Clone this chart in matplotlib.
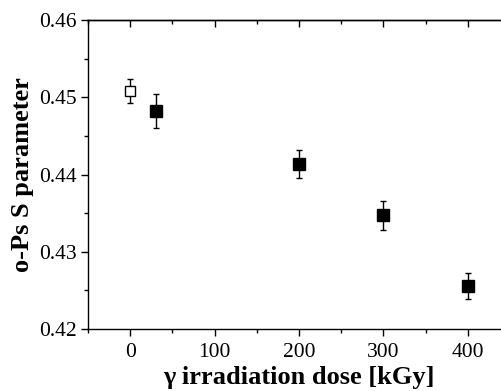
import matplotlib
matplotlib.use("Agg")
import matplotlib.pyplot as plt
from matplotlib.ticker import MultipleLocator

plt.rcParams['font.family'] = ['Liberation Serif', 'DejaVu Serif']

dose_open = [0]
s_open = [0.4508]
err_open = [0.0015]

dose = [30, 200, 300, 400]
s_param = [0.4482, 0.4414, 0.4347, 0.4256]
s_err = [0.0022, 0.0018, 0.0019, 0.0017]

fig = plt.figure(figsize=(5.02, 3.91), dpi=100)
ax = fig.add_axes([88/502, 62/391, 422/502, 309/391])

ax.errorbar(dose_open, s_open, yerr=err_open, fmt='s', mfc='white', mec='black',
            mew=1.0, ms=7, ecolor='black', elinewidth=1, capsize=2.5, capthick=1)
ax.errorbar(dose, s_param, yerr=s_err, fmt='s', mfc='black', mec='black',
            ms=8.5, ecolor='black', elinewidth=1, capsize=2.5, capthick=1)

ax.set_xlim(-50, 450)
ax.set_ylim(0.42, 0.46)
ax.xaxis.set_major_locator(MultipleLocator(100))
ax.xaxis.set_minor_locator(MultipleLocator(50))
ax.yaxis.set_major_locator(MultipleLocator(0.01))
ax.yaxis.set_minor_locator(MultipleLocator(0.005))
ax.yaxis.set_major_formatter(matplotlib.ticker.FormatStrFormatter('%.2f'))

ax.spines['right'].set_visible(False)
for s in ax.spines.values():
    s.set_linewidth(1.0)
ax.tick_params(axis='both', which='major', direction='out', length=5, width=1,
               labelsize=15.5, pad=3)
ax.tick_params(axis='x', which='major', pad=5)
ax.tick_params(axis='both', which='minor', direction='out', length=3, width=1)
ax.tick_params(top=False, right=False)

top = ax.secondary_xaxis('top')
top.xaxis.set_major_locator(MultipleLocator(100))
top.xaxis.set_minor_locator(MultipleLocator(50))
top.tick_params(which='major', direction='in', length=5, width=1, labeltop=False)
top.tick_params(which='minor', direction='in', length=3, width=1)
top.spines['top'].set_linewidth(1.0)

ax.set_xlabel('γ irradiation dose [kGy]', fontsize=19, fontweight='bold', labelpad=3)
ax.set_ylabel('o-Ps S parameter', fontsize=19, fontweight='bold', labelpad=4)

fig.savefig('out.png', dpi=100)
